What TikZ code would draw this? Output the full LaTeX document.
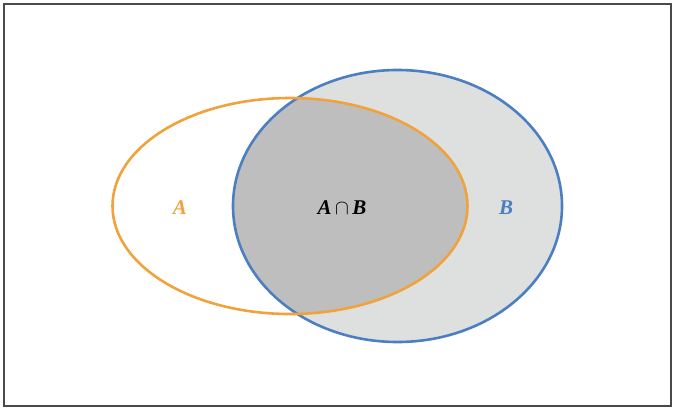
\documentclass[tikz,border=0pt]{standalone}
\usepackage{amsmath}
\usepackage{fontspec}
\setmainfont{Liberation Serif}
\usetikzlibrary{positioning}
\definecolor{setA}{HTML}{F0A23C}
\definecolor{setB}{HTML}{4C7FC2}
\definecolor{fillB}{HTML}{DEDFDF}
\definecolor{fillAB}{HTML}{BEBEBE}
\definecolor{frame}{HTML}{4A4A4A}
\begin{document}
\begin{tikzpicture}[
x=1pt, y=-1pt,
setline/.style = {line width=2.6pt},
setlabel/.style = {font=\fontsize{21}{24}\selectfont\bfseries\itshape, inner sep=0pt}
                ]
\useasboundingbox (0,0) rectangle (674,408);
\coordinate (cA) at (290,206);
\coordinate (cB) at (397.5,206);
%% universe
\draw [frame, line width=2.4pt] (4,4) rectangle (671,406);
%% fills
\fill [fillB] (cB) ellipse [x radius=164.5, y radius=136];
\begin{scope}
\clip (cA) ellipse [x radius=177.5, y radius=108];
\fill [fillAB] (cB) ellipse [x radius=164.5, y radius=136];
\end{scope}
%% outlines
\draw [setline, setB] (cB) ellipse [x radius=164.5, y radius=136];
\draw [setline, setA] (cA) ellipse [x radius=177.5, y radius=108];
%% labels
\node (labA) [setlabel, text=setA] at (180,208) {A};
\node (labAB) [setlabel] at (342,208) {A\,$\cap$\,B};
\node (labB) [setlabel, text=setB] at (506,208) {B};
\end{tikzpicture}
\end{document}
